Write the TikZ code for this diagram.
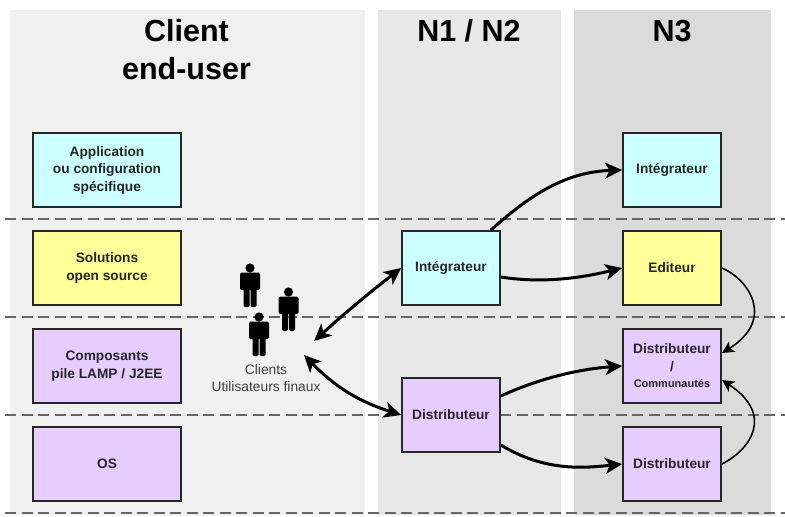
\documentclass[tikz,border=0pt]{standalone}
\usepackage{fontspec}
\setmainfont{Liberation Sans}
\usetikzlibrary{arrows.meta}
\definecolor{cyanbox}{HTML}{CCFFFF}
\definecolor{yellowbox}{HTML}{FFFF99}
\definecolor{purplebox}{HTML}{E6CCFF}
\tikzset{
 x=1pt,y=-1pt,
 boxn/.style={draw=black!85,line width=1.7pt,minimum width=98pt,minimum height=74pt,inner sep=2pt,align=center,font=\fontsize{13.7}{17.5}\selectfont\bfseries,text=black!85},
 wide/.style={minimum width=148pt},
 head/.style={font=\fontsize{30.5}{38}\selectfont\bfseries,align=center,text=black},
 sep/.style={dash pattern=on 11pt off 5.5pt,line width=1.2pt,draw=black!60},
 big/.style={line width=3pt,-{Stealth[length=17pt,width=16pt,inset=4.5pt]}},
 bigboth/.style={line width=3pt,{Stealth[length=17pt,width=16pt,inset=4.5pt]}-{Stealth[length=17pt,width=16pt,inset=4.5pt]}},
 thinarrow/.style={line width=1.6pt,-{Stealth[length=12pt,width=12pt,inset=3pt]}},
 person/.pic={
  \fill[black] (0,-16) circle (4.6);
  \fill[black,rounded corners=1.5] (-10,-11.5) rectangle (10,6);
  \fill[black,rounded corners=1.5] (-6.5,-11) rectangle (-0.5,23);
  \fill[black,rounded corners=1.5] (0.5,-11) rectangle (6.5,23);
 }
}
\begin{document}
\begin{tikzpicture}
\useasboundingbox (0,0) rectangle (785,517);
\fill[white] (0,0) rectangle (785,517);
\fill[black!6] (10,10) rectangle (365,515);
\fill[black!9] (378,10) rectangle (561,515);
\fill[black!14] (574,10) rectangle (771,515);
\node[head] (h1) at (186.5,49.5) {Client\\end-user};
\node[head] (h2) at (469,31) {N1 / N2};
\node[head] (h3) at (672,31) {N3};
\foreach \yy in {219,317,415,513} \draw[sep] (5,\yy) -- (785,\yy);
\node[boxn,wide,fill=cyanbox] (a) at (107,170) {Application\\ou configuration\\spécifique};
\node[boxn,wide,fill=yellowbox] (b) at (107,268) {Solutions\\open source};
\node[boxn,wide,fill=purplebox] (c) at (107,366) {Composants\\pile LAMP / J2EE};
\node[boxn,wide,fill=purplebox] (d) at (107,464) {OS};
\node[boxn,fill=cyanbox] (mi) at (451,268) {Intégrateur};
\node[boxn,fill=purplebox] (md) at (451,415) {Distributeur};
\node[boxn,fill=cyanbox] (ri) at (672,170) {Intégrateur};
\node[boxn,fill=yellowbox] (re) at (672,268) {Editeur};
\node[boxn,fill=purplebox] (rc) at (672,366) {Distributeur\\/\\[-1pt]{\fontsize{11}{13}\selectfont Communautés}};
\node[boxn,fill=purplebox] (rd) at (672,464) {Distributeur};
\pic at (250,284) {person};
\pic at (288.5,308) {person};
\pic at (259,333) {person};
\node[font=\fontsize{13.8}{17}\selectfont,align=center,text=black!75] (cl) at (266,378) {Clients\\Utilisateurs finaux};
\coordinate (c1) at (314,341);
\coordinate (c2) at (304,355);
\draw[bigboth] (c1) to[bend left=2] (mi.west);
\draw[bigboth] (c2) to[bend right=14] (md.west);
\path (mi.north east) ++(-10,0) coordinate (s1);
\draw[big] (s1) .. controls (530,195) and (565,172) .. (ri.west);
\path (mi.east) ++(0,9) coordinate (s2);
\draw[big] (s2) .. controls (545,284) and (585,277) .. (re.west);
\path (md.east) ++(0,-19) coordinate (s3);
\draw[big] (s3) .. controls (540,378) and (580,369) .. (rc.west);
\path (md.east) ++(0,30) coordinate (s4);
\draw[big] (s4) .. controls (545,472) and (585,468) .. (rd.west);
\coordinate (e1) at (722,353);
\coordinate (e2) at (722,380);
\draw[thinarrow] (re.east) .. controls (750,280) and (775,320) .. (e1);
\draw[thinarrow] (rd.east) .. controls (750,450) and (775,415) .. (e2);
\end{tikzpicture}
\end{document}
